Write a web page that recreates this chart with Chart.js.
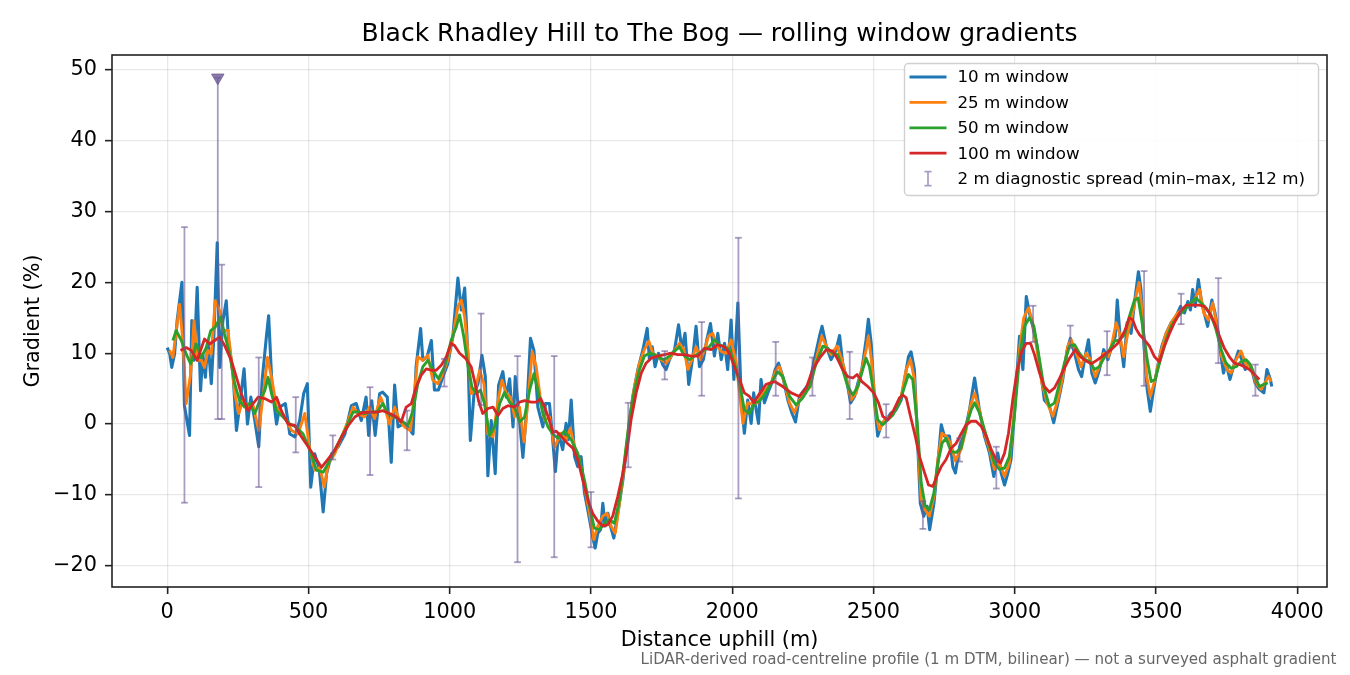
<!DOCTYPE html>
<html>
<head>
<meta charset="utf-8">
<title>Black Rhadley Hill to The Bog — rolling window gradients</title>
<script src="https://cdn.jsdelivr.net/npm/chart.js@4.4.1/dist/chart.umd.min.js"></script>
<style>
  html, body { margin: 0; padding: 0; background: #fff; }
  #wrap { width: 1350px; height: 675px; }
</style>
</head>
<body>
<div id="wrap"><canvas id="chart" width="1350" height="675"></canvas></div>
<script>
// Distance uphill (m) and gradient (%) for each rolling window
const dist10 = [
  0, 9, 16, 26, 35, 52, 61, 79, 87, 95,
  106, 118, 126, 135, 144, 156, 165, 177, 186, 197,
  209, 217, 233, 245, 256, 272, 284, 296, 310, 324,
  336, 351, 359, 371, 387, 398, 418, 434, 452, 469,
  483, 496, 508, 522, 538, 552, 564, 582, 605, 629,
  652, 669, 687, 704, 713, 724, 736, 752, 763, 779,
  793, 805, 817, 834, 852, 870, 881, 897, 905, 920,
  935, 946, 960, 976, 993, 1011, 1029, 1041, 1053, 1065,
  1073, 1086, 1100, 1114, 1126, 1135, 1147, 1161, 1173, 1188,
  1200, 1212, 1224, 1232, 1244, 1259, 1274, 1286, 1298, 1312,
  1330, 1339, 1353, 1363, 1374, 1385, 1400, 1412, 1420, 1430,
  1442, 1453, 1465, 1477, 1491, 1506, 1515, 1524, 1534, 1542,
  1550, 1560, 1569, 1581, 1595, 1613, 1630, 1648, 1666, 1684,
  1699, 1707, 1717, 1727, 1739, 1754, 1766, 1778, 1796, 1810,
  1822, 1833, 1846, 1861, 1872, 1884, 1898, 1910, 1923, 1937,
  1949, 1961, 1973, 1984, 1996, 2006, 2020, 2032, 2043, 2055,
  2067, 2076, 2085, 2093, 2102, 2114, 2126, 2140, 2152, 2164,
  2179, 2197, 2211, 2224, 2238, 2256, 2274, 2291, 2309, 2318,
  2333, 2350, 2368, 2380, 2391, 2403, 2419, 2433, 2445, 2459,
  2474, 2482, 2492, 2504, 2515, 2530, 2545, 2563, 2580, 2598,
  2612, 2624, 2633, 2645, 2657, 2666, 2678, 2690, 2699, 2714,
  2728, 2740, 2751, 2769, 2781, 2790, 2805, 2822, 2840, 2858,
  2875, 2893, 2911, 2926, 2940, 2952, 2964, 2976, 2987, 3002,
  3017, 3029, 3041, 3052, 3064, 3079, 3094, 3105, 3123, 3138,
  3153, 3170, 3186, 3197, 3212, 3226, 3237, 3249, 3261, 3273,
  3285, 3300, 3315, 3330, 3344, 3356, 3363, 3374, 3386, 3398,
  3412, 3424, 3438, 3447, 3457, 3469, 3480, 3492, 3506, 3521,
  3536, 3554, 3571, 3587, 3601, 3613, 3622, 3630, 3639, 3650,
  3662, 3674, 3683, 3698, 3709, 3721, 3731, 3739, 3748, 3762,
  3778, 3792, 3804, 3816, 3827, 3839, 3851, 3866, 3882, 3893,
  3905, 3910
];
const grad10 = [
  10.8, 9.9, 8.0, 9.9, 14.6, 20.0, 2.6, -1.6, 14.6, 9.0,
  19.3, 4.7, 9.9, 6.6, 11.8, 5.7, 12.3, 25.6, 8.0, 14.6,
  17.4, 11.8, 7.1, -0.9, 2.4, 7.8, 0, 3.8, 0.5, -3.2,
  6.2, 12.3, 15.3, 5.2, 0, 2.4, 2.9, -1.4, -1.8, 0.5,
  4.3, 5.7, -8.9, -4.2, -6.3, -12.4, -7.0, -4.2, -3.2, -1.4,
  2.6, 2.9, 0.5, 3.8, -1.6, 3.3, -1.6, 4.3, 4.5, 3.8,
  -5.4, 5.5, -0.4, 0, -0.4, -1.4, 8.1, 13.5, 9.0, 9.5,
  11.8, 4.8, 4.8, 6.7, 8.5, 12.3, 20.6, 16.1, 19.2, 9.0,
  -2.3, 4.3, 5.7, 9.7, 6.7, -7.3, 0.5, -7.0, 5.5, 7.4,
  3.8, 6.4, -0.4, 6.7, 1.9, -4.7, 2.9, 12.1, 10.4, 2.4,
  -0.4, 2.9, 2.9, -1.4, -6.7, -1.3, -3.6, 0.1, -2.2, 3.4,
  -4.6, -6.0, -4.6, -9.7, -12.6, -15.9, -17.5, -15.4, -14.9, -11.2,
  -14.4, -12.6, -14.4, -16.1, -12.6, -7.9, -2.2, 3.9, 7.7, 10.5,
  13.5, 9.1, 10.9, 8.1, 10.0, 8.4, 7.7, 9.1, 10.5, 14.0,
  10.5, 12.8, 5.6, 9.6, 13.8, 8.1, 9.1, 11.9, 14.2, 9.6,
  12.8, 9.1, 11.4, 7.7, 14.7, 6.3, 17.1, 3.4, -1.3, 3.4,
  0.1, 4.4, 2.0, 0.1, 6.3, 3.0, 4.4, 5.8, 7.7, 8.6,
  6.7, 3.4, 1.6, 0.3, 3.9, 4.9, 5.8, 9.1, 12.4, 13.8,
  11.0, 9.1, 10.5, 12.5, 8.6, 6.7, 3.0, 3.9, 5.8, 7.7,
  11.9, 14.8, 11.4, 3.0, -1.7, 0.1, 0.6, 1.6, 2.0, 3.4,
  6.7, 9.5, 10.2, 7.7, -3.2, -11.2, -13.0, -11.6, -14.9, -11.2,
  -5.5, -0.1, -1.7, -1.7, -6.0, -6.9, -3.2, -1.3, 2.0, 6.5,
  2.0, -1.7, -4.1, -7.4, -4.1, -6.9, -8.6, -6.9, -5.0, 3.4,
  12.4, 7.7, 18.0, 15.7, 13.8, 11.0, 6.7, 3.4, 2.5, 0.2,
  3.0, 6.3, 10.5, 12.1, 10.0, 7.7, 6.7, 9.5, 11.9, 7.2,
  5.8, 7.7, 10.5, 9.1, 11.0, 12.4, 17.5, 11.9, 8.1, 14.3,
  12.8, 17.1, 21.5, 19.0, 11.4, 4.9, 1.8, 4.9, 8.1, 11.0,
  12.8, 14.3, 15.2, 16.6, 15.7, 17.3, 16.1, 19.0, 16.6, 20.4,
  17.1, 15.2, 13.8, 17.5, 15.7, 12.8, 9.5, 7.2, 8.6, 6.3,
  8.6, 10.3, 9.1, 7.7, 8.6, 7.7, 5.8, 4.9, 4.4, 7.7,
  6.3, 5.3
];

const dist25 = [
  8, 20, 32, 44, 56, 67, 83, 95, 106, 121,
  132, 144, 156, 170, 186, 197, 215, 227, 239, 253,
  268, 286, 304, 324, 339, 355, 369, 387, 404, 422,
  440, 463, 487, 505, 522, 540, 556, 570, 593, 617,
  641, 658, 675, 698, 716, 734, 755, 769, 787, 805,
  822, 840, 861, 876, 887, 905, 923, 940, 958, 976,
  993, 1011, 1029, 1041, 1053, 1065, 1076, 1090, 1106, 1121,
  1135, 1153, 1171, 1185, 1200, 1215, 1230, 1247, 1263, 1277,
  1292, 1306, 1322, 1336, 1353, 1371, 1394, 1412, 1427, 1442,
  1459, 1477, 1495, 1510, 1524, 1542, 1557, 1571, 1586, 1601,
  1619, 1636, 1654, 1672, 1689, 1705, 1719, 1734, 1748, 1766,
  1784, 1798, 1813, 1829, 1843, 1857, 1872, 1888, 1902, 1916,
  1931, 1947, 1963, 1978, 1996, 2014, 2026, 2038, 2055, 2070,
  2090, 2102, 2120, 2138, 2156, 2167, 2185, 2203, 2220, 2238,
  2256, 2277, 2297, 2317, 2333, 2350, 2371, 2388, 2403, 2421,
  2439, 2456, 2474, 2482, 2494, 2510, 2521, 2539, 2560, 2580,
  2598, 2616, 2631, 2645, 2657, 2669, 2683, 2698, 2714, 2728,
  2742, 2757, 2773, 2790, 2810, 2828, 2843, 2858, 2875, 2893,
  2911, 2928, 2946, 2964, 2981, 2999, 3017, 3032, 3049, 3064,
  3079, 3096, 3115, 3135, 3153, 3170, 3188, 3200, 3218, 3235,
  3253, 3268, 3285, 3300, 3315, 3332, 3347, 3359, 3371, 3386,
  3400, 3418, 3428, 3440, 3453, 3465, 3480, 3497, 3516, 3536,
  3554, 3577, 3601, 3619, 3636, 3654, 3669, 3686, 3701, 3716,
  3733, 3752, 3766, 3784, 3801, 3819, 3837, 3854, 3872, 3886,
  3898, 3908
];
const grad25 = [
  10.4, 9.4, 13.2, 16.9, 11.3, 2.9, 7.1, 14.6, 9.0, 9.0,
  8.0, 10.4, 9.9, 17.4, 16.0, 13.2, 13.2, 9.0, 4.3, 1.5,
  3.3, 2.4, 2.6, -0.9, 3.8, 9.4, 6.6, 2.4, 1.5, 0.5,
  -0.9, -1.4, 1.5, -3.7, -6.5, -6.1, -8.9, -5.6, -4.2, -1.8,
  0.5, 2.4, 1.5, 1.0, 2.4, 0.8, 3.8, 2.4, 0, 2.4,
  0.5, -0.4, -0.9, 4.8, 9.5, 9.0, 9.7, 6.2, 5.7, 7.1,
  9.0, 12.3, 16.6, 17.5, 15.1, 10.0, 4.3, 4.8, 7.6, 5.7,
  -1.4, -1.8, 3.3, 6.2, 4.3, 3.8, 1.0, 2.4, -2.5, 3.3,
  10.2, 8.1, 3.3, 0.5, 1.0, -3.3, -1.3, -2.2, -0.6, -3.2,
  -5.0, -8.8, -12.6, -16.3, -14.4, -13.0, -12.6, -14.4, -15.4, -11.2,
  -5.5, 0.6, 5.3, 8.6, 10.5, 11.7, 10.0, 9.6, 9.1, 8.6,
  9.6, 10.5, 11.4, 10.5, 7.7, 9.1, 10.9, 9.1, 10.5, 12.4,
  12.8, 10.9, 10.2, 10.0, 11.9, 8.6, 4.4, 0.1, 3.0, 2.8,
  3.0, 3.9, 4.9, 5.8, 7.7, 8.1, 5.8, 3.0, 1.6, 3.4,
  4.4, 5.3, 9.1, 12.4, 11.0, 9.8, 11.0, 9.1, 6.7, 3.4,
  4.4, 7.2, 10.5, 12.4, 8.6, 1.1, -0.8, 0.6, 1.1, 2.5,
  3.9, 7.7, 9.1, 6.3, -2.7, -10.7, -12.1, -13.0, -10.2, -5.0,
  -1.3, -1.7, -2.7, -5.2, -3.6, -0.8, 2.5, 4.4, 2.0, -1.3,
  -3.6, -6.4, -5.5, -7.4, -5.5, 2.0, 10.5, 15.0, 16.4, 14.3,
  10.5, 5.8, 3.0, 1.1, 3.4, 6.7, 11.0, 11.9, 10.0, 8.1,
  10.0, 9.1, 6.7, 8.1, 10.0, 9.5, 11.9, 14.3, 12.8, 9.5,
  12.8, 15.7, 17.8, 20.0, 15.2, 7.2, 3.9, 6.3, 10.0, 12.8,
  14.3, 15.7, 16.4, 16.8, 17.5, 19.0, 15.7, 14.7, 17.1, 13.8,
  9.5, 7.7, 7.2, 9.1, 10.3, 8.4, 8.1, 5.8, 4.9, 5.8,
  6.7, 6.0
];

const dist50 = [
  20, 32, 50, 67, 83, 103, 121, 138, 154, 170,
  189, 203, 221, 239, 256, 274, 292, 310, 327, 345,
  357, 369, 387, 410, 434, 457, 481, 505, 528, 552,
  576, 599, 629, 658, 675, 698, 722, 743, 763, 781,
  805, 828, 852, 870, 887, 905, 923, 940, 960, 982,
  1005, 1023, 1035, 1050, 1065, 1079, 1094, 1109, 1123, 1141,
  1159, 1177, 1194, 1212, 1230, 1247, 1265, 1283, 1298, 1312,
  1330, 1348, 1365, 1383, 1406, 1430, 1453, 1477, 1495, 1512,
  1530, 1548, 1565, 1583, 1601, 1619, 1636, 1654, 1672, 1689,
  1707, 1725, 1743, 1760, 1778, 1796, 1813, 1831, 1849, 1866,
  1884, 1902, 1919, 1937, 1955, 1973, 1990, 2008, 2026, 2043,
  2061, 2079, 2095, 2114, 2138, 2161, 2179, 2203, 2226, 2250,
  2274, 2297, 2321, 2338, 2356, 2374, 2391, 2409, 2427, 2445,
  2462, 2474, 2486, 2501, 2515, 2533, 2551, 2569, 2592, 2610,
  2624, 2639, 2655, 2669, 2683, 2698, 2714, 2728, 2743, 2757,
  2775, 2793, 2810, 2828, 2846, 2858, 2875, 2893, 2911, 2928,
  2946, 2964, 2981, 2999, 3017, 3035, 3052, 3068, 3084, 3103,
  3123, 3141, 3159, 3176, 3194, 3212, 3229, 3247, 3265, 3282,
  3300, 3318, 3336, 3353, 3371, 3389, 3406, 3424, 3437, 3453,
  3469, 3483, 3497, 3516, 3536, 3554, 3577, 3601, 3624, 3642,
  3660, 3677, 3695, 3713, 3731, 3748, 3766, 3784, 3801, 3819,
  3834, 3851, 3866, 3882, 3896
];
const grad50 = [
  11.8, 13.2, 11.8, 9.9, 8.5, 11.3, 9.4, 10.8, 13.2, 13.7,
  15.1, 12.7, 9.9, 5.7, 3.3, 2.4, 2.9, 1.5, 3.3, 4.7,
  6.6, 4.3, 1.9, 1.0, 0, -0.4, -1.4, -3.7, -6.5, -6.8,
  -5.1, -3.2, -0.9, 1.7, 1.7, 1.5, 1.7, 1.7, 2.9, 1.5,
  1.0, 0.5, -0.2, 1.9, 5.7, 8.1, 9.0, 7.6, 6.4, 8.1,
  11.8, 13.7, 15.4, 12.3, 8.1, 5.2, 4.3, 4.8, 2.9, -1.6,
  -0.4, 2.9, 4.5, 3.1, 2.4, 0.3, 1.0, 4.8, 7.1, 4.8,
  1.5, -0.4, -1.4, -2.0, -1.0, -2.2, -4.1, -7.9, -11.6, -14.7,
  -14.9, -14.0, -13.5, -14.0, -10.7, -5.0, 0.6, 4.8, 7.7, 9.6,
  10.0, 9.8, 9.3, 9.1, 9.6, 10.3, 10.9, 9.6, 9.1, 9.6,
  10.0, 10.5, 10.9, 11.9, 11.2, 10.9, 10.5, 8.6, 5.8, 2.0,
  1.5, 3.0, 3.2, 4.1, 5.8, 7.4, 6.7, 3.9, 2.7, 3.7,
  5.3, 8.6, 11.0, 10.7, 10.0, 9.8, 7.7, 5.3, 4.1, 5.3,
  7.7, 9.3, 8.1, 4.4, 0.6, -0.1, 0.6, 1.3, 3.0, 5.3,
  7.0, 6.3, 0.1, -8.3, -11.6, -12.1, -9.7, -5.5, -2.7, -2.0,
  -3.9, -4.0, -3.4, -0.3, 2.0, 3.0, 1.6, -0.8, -3.2, -5.5,
  -6.4, -6.2, -4.6, 1.1, 9.5, 13.8, 15.0, 13.8, 10.0, 5.3,
  2.5, 3.0, 5.8, 8.6, 11.0, 11.2, 10.0, 9.1, 8.9, 7.7,
  8.1, 9.5, 10.5, 11.7, 11.9, 12.6, 15.2, 17.5, 17.8, 13.8,
  9.1, 6.0, 6.3, 9.1, 11.9, 13.8, 15.2, 16.1, 17.1, 17.8,
  17.1, 16.4, 15.4, 13.3, 10.5, 8.6, 7.9, 8.1, 8.8, 9.1,
  8.4, 6.7, 5.3, 5.6, 5.8
];

const dist100 = [
  47, 67, 85, 106, 132, 150, 168, 186, 203, 227,
  245, 262, 286, 304, 322, 345, 369, 387, 404, 428,
  452, 475, 499, 522, 546, 570, 593, 617, 641, 664,
  688, 722, 746, 763, 787, 811, 828, 846, 864, 881,
  899, 917, 935, 952, 970, 988, 1005, 1017, 1035, 1058,
  1076, 1090, 1102, 1117, 1135, 1153, 1171, 1188, 1206, 1230,
  1247, 1265, 1289, 1306, 1322, 1336, 1353, 1365, 1377, 1394,
  1416, 1436, 1453, 1471, 1489, 1506, 1524, 1542, 1560, 1577,
  1595, 1613, 1628, 1642, 1660, 1678, 1695, 1713, 1737, 1760,
  1784, 1807, 1831, 1855, 1878, 1902, 1925, 1949, 1973, 1990,
  2008, 2026, 2043, 2061, 2077, 2095, 2120, 2150, 2179, 2209,
  2238, 2262, 2285, 2309, 2333, 2356, 2374, 2391, 2409, 2427,
  2442, 2459, 2480, 2501, 2518, 2533, 2551, 2572, 2592, 2604,
  2616, 2631, 2648, 2663, 2681, 2695, 2710, 2724, 2740, 2757,
  2775, 2793, 2810, 2828, 2846, 2863, 2881, 2899, 2917, 2934,
  2950, 2964, 2978, 2993, 3009, 3025, 3041, 3056, 3070, 3088,
  3105, 3123, 3141, 3159, 3176, 3194, 3214, 3233, 3253, 3271,
  3294, 3318, 3341, 3365, 3389, 3406, 3418, 3430, 3442, 3459,
  3477, 3495, 3512, 3530, 3548, 3565, 3587, 3607, 3630, 3654,
  3672, 3689, 3707, 3725, 3742, 3760, 3778, 3796, 3813, 3831,
  3849, 3866
];
const grad100 = [
  10.4, 10.8, 10.4, 9.0, 12.0, 11.3, 11.8, 12.3, 11.1, 9.0,
  6.6, 4.3, 1.9, 2.9, 3.8, 3.6, 3.1, 3.8, 1.9, 0,
  -0.2, -1.8, -3.2, -4.6, -6.1, -4.9, -3.7, -1.8, -0.2, 1.0,
  1.6, 1.7, 1.7, 1.9, 1.5, 1.0, 0.3, 2.4, 2.9, 5.2,
  6.9, 7.8, 7.6, 7.6, 8.3, 9.5, 11.4, 11.1, 10.0, 9.2,
  8.1, 5.7, 3.3, 1.5, 2.2, 2.4, 1.2, 2.2, 2.6, 2.4,
  3.1, 3.3, 3.1, 3.1, 3.6, 2.4, 0.5, -1.2, -1.0, -1.7,
  -2.7, -3.4, -5.0, -7.9, -10.7, -12.6, -13.7, -14.4, -14.2, -13.0,
  -10.2, -6.9, -3.6, 0.6, 4.4, 7.2, 8.6, 9.3, 9.6, 9.8,
  10.0, 9.8, 9.8, 9.6, 9.6, 10.7, 10.5, 11.2, 10.9, 10.0,
  8.1, 6.3, 4.4, 3.9, 3.0, 4.2, 5.6, 6.0, 5.3, 4.4,
  3.9, 5.1, 7.7, 9.3, 10.5, 10.3, 9.1, 7.7, 6.7, 6.5,
  7.0, 6.0, 5.3, 4.4, 3.0, 1.1, 0.6, 2.0, 3.7, 4.1,
  3.7, 1.1, -1.7, -4.6, -6.9, -8.6, -8.8, -7.4, -6.0, -5.0,
  -3.4, -2.7, -1.4, -0.1, 0.4, 0.4, -0.3, -1.7, -3.6, -5.0,
  -5.5, -4.1, -1.3, 3.4, 7.7, 10.3, 11.4, 11.4, 9.8, 7.2,
  5.3, 4.5, 5.1, 6.5, 7.9, 9.3, 10.5, 9.5, 8.9, 8.5,
  9.1, 9.8, 10.5, 11.4, 13.1, 15.0, 14.7, 13.4, 12.6, 11.9,
  11.0, 9.5, 8.8, 11.0, 12.8, 14.3, 15.9, 16.8, 16.8, 16.8,
  16.6, 15.7, 14.3, 12.4, 10.7, 9.5, 8.6, 8.4, 8.1, 7.7,
  7.0, 6.3
];

// 2 m diagnostic spread: min and max gradient within ±12 m of each station
const spreadDist = [61, 179, 193, 324, 455, 586, 718, 849, 981, 1111, 1240, 1370, 1500, 1632, 1761, 1892,
  2022, 2154, 2284, 2416, 2545, 2675, 2805, 2935, 3065, 3197, 3327, 3458, 3589, 3721, 3852];
const spreadMin = [-11.1, 0.7, 0.7, -8.9, -4.0, -5.0, -7.2, -3.7, 5.3, 2.7, -19.5, -18.8, -17.4, -6.1, 6.3, 4.0,
  -10.5, 4.0, 4.0, 0.7, -1.9, -14.8, -5.3, -9.1, 11.6, 10.7, 6.9, 5.4, 14.1, 8.6, 4.0];
// the second spread runs off the scale: its top is held at the marker
const spreadMax = [27.8, 48.9, 22.5, 9.4, 3.8, -1.6, 5.2, 1.9, 9.2, 15.6, 9.6, 9.6, -9.6, 3.0, 10.3, 14.4,
  26.3, 11.6, 9.4, 10.2, 2.8, -10.9, -2.0, -3.2, 16.7, 13.9, 13.1, 21.6, 18.4, 20.6, 8.4];
const offscaleDist = [179];
const offscaleMark = [48.9];

const xTickValues = [0, 500, 1000, 1500, 2000, 2500, 3000, 3500, 4000];
const yTickValues = [-20, -10, 0, 10, 20, 30, 40, 50];

const BLUE = '#1f77b4', ORANGE = '#ff7f0e', GREEN = '#2ca02c', RED = '#d62728';
const SPREAD = 'rgba(110, 90, 150, 0.6)';
const FOOTNOTE = 'LiDAR-derived road-centreline profile (1 m DTM, bilinear) \u2014 not a surveyed asphalt gradient';

const FONT = 'DejaVu Sans';
Chart.defaults.font.family = FONT;
Chart.defaults.color = '#000';

function pairs(xs, ys) {
  return xs.map((x, i) => ({ x: x, y: ys[i] }));
}

// each spread is a two point segment, broken from the next one by a null
function spreadPoints() {
  const pts = [];
  spreadDist.forEach((d, i) => {
    pts.push({ x: d, y: spreadMin[i] });
    pts.push({ x: d, y: spreadMax[i] });
    pts.push({ x: d, y: null });
  });
  return pts;
}

function series(label, xs, ys, color, width, order, legendRow) {
  return {
    label: label,
    data: pairs(xs, ys),
    borderColor: color,
    backgroundColor: color,
    borderWidth: width,
    borderJoinStyle: 'round',
    pointRadius: 0,
    tension: 0,
    order: order,
    legendRow: legendRow
  };
}

// Frame round the plot area, like matplotlib spines
const framePlugin = {
  id: 'frame',
  afterDatasetsDraw(chart) {
    const a = chart.chartArea;
    const ctx = chart.ctx;
    ctx.save();
    ctx.strokeStyle = '#222';
    ctx.lineWidth = 1.6;
    ctx.strokeRect(a.left, a.top, a.right - a.left, a.bottom - a.top);
    ctx.restore();
  }
};

// Legend box in the upper right corner of the plot area
const legendPlugin = {
  id: 'cornerLegend',
  afterDraw(chart) {
    const a = chart.chartArea;
    const ctx = chart.ctx;
    const items = chart.data.datasets
      .filter(ds => ds.legendRow !== undefined)
      .sort((p, q) => p.legendRow - q.legendRow);
    const w = 414, h = 132;
    const left = a.right - 8.5 - w;
    const top = a.top + 8.5;

    ctx.save();
    ctx.beginPath();
    ctx.roundRect(left, top, w, h, 4);
    ctx.fillStyle = 'rgba(255,255,255,0.85)';
    ctx.fill();
    ctx.strokeStyle = '#d0d0d0';
    ctx.lineWidth = 1.4;
    ctx.stroke();

    ctx.font = '16.7px "' + FONT + '"';
    ctx.textBaseline = 'middle';
    ctx.textAlign = 'left';
    items.forEach((ds, i) => {
      const y = top + 13.5 + i * 25.4;
      ctx.strokeStyle = ds.borderColor;
      if (ds.spread) {
        const cx = left + 23.5;
        ctx.lineWidth = 1.7;
        ctx.beginPath();
        ctx.moveTo(cx, y - 7); ctx.lineTo(cx, y + 7);
        ctx.moveTo(cx - 3.5, y - 7); ctx.lineTo(cx + 3.5, y - 7);
        ctx.moveTo(cx - 3.5, y + 7); ctx.lineTo(cx + 3.5, y + 7);
        ctx.stroke();
      } else {
        ctx.lineWidth = 2.8;
        ctx.beginPath();
        ctx.moveTo(left + 5, y);
        ctx.lineTo(left + 42, y);
        ctx.stroke();
      }
      ctx.fillStyle = '#000';
      ctx.fillText(ds.label, left + 53, y + 1);
    });
    ctx.restore();
  }
};

const footnotePlugin = {
  id: 'footnote',
  afterDraw(chart) {
    const ctx = chart.ctx;
    ctx.save();
    ctx.font = '15.1px "' + FONT + '"';
    ctx.fillStyle = '#666';
    ctx.textAlign = 'right';
    ctx.textBaseline = 'bottom';
    ctx.fillText(FOOTNOTE, chart.width - 13.5, chart.height - 7);
    ctx.restore();
  }
};

const tickText = v => String(v).replace('-', '\u2212');

new Chart(document.getElementById('chart'), {
  type: 'line',
  data: {
    datasets: [
      {
        label: 'off-scale spread',
        data: pairs(offscaleDist, offscaleMark),
        showLine: false,
        pointStyle: 'triangle',
        rotation: 180,
        pointRadius: 7.2,
        pointBackgroundColor: 'rgba(110, 90, 150, 0.8)',
        pointBorderColor: 'rgba(110, 90, 150, 0.8)',
        pointBorderWidth: 1,
        order: 0
      },
      {
        label: '2 m diagnostic spread (min\u2013max, \u00b112 m)',
        data: spreadPoints(),
        borderColor: SPREAD,
        borderWidth: 1.8,
        spanGaps: false,
        pointStyle: 'line',
        pointRadius: 3.4,
        pointBorderColor: SPREAD,
        pointBorderWidth: 1.8,
        order: 1,
        legendRow: 4,
        spread: true
      },
      series('100 m window', dist100, grad100, RED, 2.8, 2, 3),
      series('50 m window', dist50, grad50, GREEN, 2.9, 3, 2),
      series('25 m window', dist25, grad25, ORANGE, 2.9, 4, 1),
      series('10 m window', dist10, grad10, BLUE, 3.1, 5, 0)
    ]
  },
  options: {
    responsive: false,
    animation: false,
    devicePixelRatio: 1,
    events: [],
    layout: { padding: { left: 0, right: 23, top: 0, bottom: 0 } },
    scales: {
      x: {
        type: 'linear',
        min: -195.5,
        max: 4105.5,
        afterFit(scale) { scale.height = 88; },
        afterBuildTicks(scale) { scale.ticks = xTickValues.map(v => ({ value: v })); },
        ticks: { callback: tickText, font: { size: 20.8 }, padding: 6, maxRotation: 0, autoSkip: false },
        grid: { color: 'rgba(0,0,0,0.09)', lineWidth: 1.3, tickColor: '#222', tickLength: 7, tickWidth: 1.6 },
        border: { display: false },
        title: { display: true, text: 'Distance uphill (m)', font: { size: 20.8 }, padding: { top: 0, bottom: 21.5 } }
      },
      y: {
        type: 'linear',
        min: -23.0,
        max: 52.1,
        afterFit(scale) { scale.width = 112; },
        afterBuildTicks(scale) { scale.ticks = yTickValues.map(v => ({ value: v })); },
        ticks: { callback: tickText, font: { size: 20.8 }, padding: 8, autoSkip: false },
        grid: { color: 'rgba(0,0,0,0.09)', lineWidth: 1.3, tickColor: '#222', tickLength: 7, tickWidth: 1.6 },
        border: { display: false },
        title: { display: true, text: 'Gradient (%)', font: { size: 20.8 }, padding: { top: 21, bottom: 0 } }
      }
    },
    plugins: {
      legend: { display: false },
      tooltip: { enabled: false },
      title: {
        display: true,
        fullSize: false,
        text: 'Black Rhadley Hill to The Bog \u2014 rolling window gradients',
        font: { size: 25, weight: 'normal' },
        color: '#000',
        padding: { top: 19, bottom: 6 }
      }
    }
  },
  plugins: [framePlugin, legendPlugin, footnotePlugin]
});
</script>
</body>
</html>
